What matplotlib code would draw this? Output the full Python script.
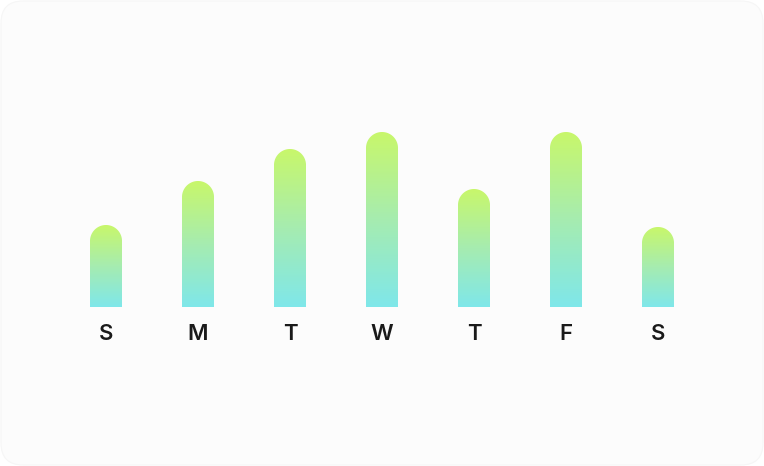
import numpy as np
import matplotlib
matplotlib.use("Agg")
import matplotlib.pyplot as plt
from matplotlib.path import Path
from matplotlib.patches import PathPatch, FancyBboxPatch
from matplotlib.colors import LinearSegmentedColormap
from matplotlib.transforms import IdentityTransform

days = ["S", "M", "T", "W", "T", "F", "S"]
values = [82, 126, 158, 175, 118, 175, 80]

W, H, DPI = 764, 466, 100
fig = plt.figure(figsize=(W / DPI, H / DPI), dpi=DPI, facecolor="white")

# card background
card = FancyBboxPatch((1, 1), W - 2, H - 2, boxstyle="round,pad=0,rounding_size=22",
                      transform=IdentityTransform(), facecolor="#fcfcfc",
                      edgecolor="#f6f6f6", linewidth=0.8, zorder=-10)
fig.patches.append(card)

ax_left, ax_width = 60, 644
ax_bottom_px, ax_height = 307, 200
ax = fig.add_axes([ax_left / W, (H - ax_bottom_px) / H, ax_width / W, ax_height / H])
ax.set_zorder(5)
ax.set_xlim(-0.5, len(days) - 0.5)
ax.set_ylim(0, ax_height)
ax.patch.set_alpha(0)
for s in ax.spines.values():
    s.set_visible(False)
ax.set_yticks([])
ax.set_xticks(range(len(days)))
ax.set_xticklabels(days, fontsize=16, fontfamily="Inter", fontweight="semibold", color="#1a1a1a")
ax.tick_params(axis="x", length=0, pad=12)

cmap = LinearSegmentedColormap.from_list("g", ["#7fe7ea", "#a6ecb0", "#c8f76b"])
grad = np.linspace(0, 1, 256).reshape(-1, 1)

bw = 32 / 92  # bar width in category units
rx = bw / 2
ry = 16.0  # y units are pixels here
for i, v in enumerate(values):
    x0, x1 = i - rx, i + rx
    t = np.linspace(np.pi, 0, 60)
    arc_x = i + rx * np.cos(t)
    arc_y = (v - ry) + ry * np.sin(t)
    verts = [(x0, 0)] + list(zip(arc_x, arc_y)) + [(x1, 0), (x0, 0)]
    codes = [Path.MOVETO] + [Path.LINETO] * (len(verts) - 2) + [Path.CLOSEPOLY]
    patch = PathPatch(Path(verts, codes), facecolor="none", edgecolor="none")
    ax.add_patch(patch)
    im = ax.imshow(grad, cmap=cmap, origin="lower", extent=(x0, x1, 0, v),
                   aspect="auto", interpolation="bilinear", zorder=2)
    im.set_clip_path(patch)

ax.set_xlim(-0.5, len(days) - 0.5)
ax.set_ylim(0, ax_height)
fig.savefig("out.png", dpi=DPI, facecolor="white")
